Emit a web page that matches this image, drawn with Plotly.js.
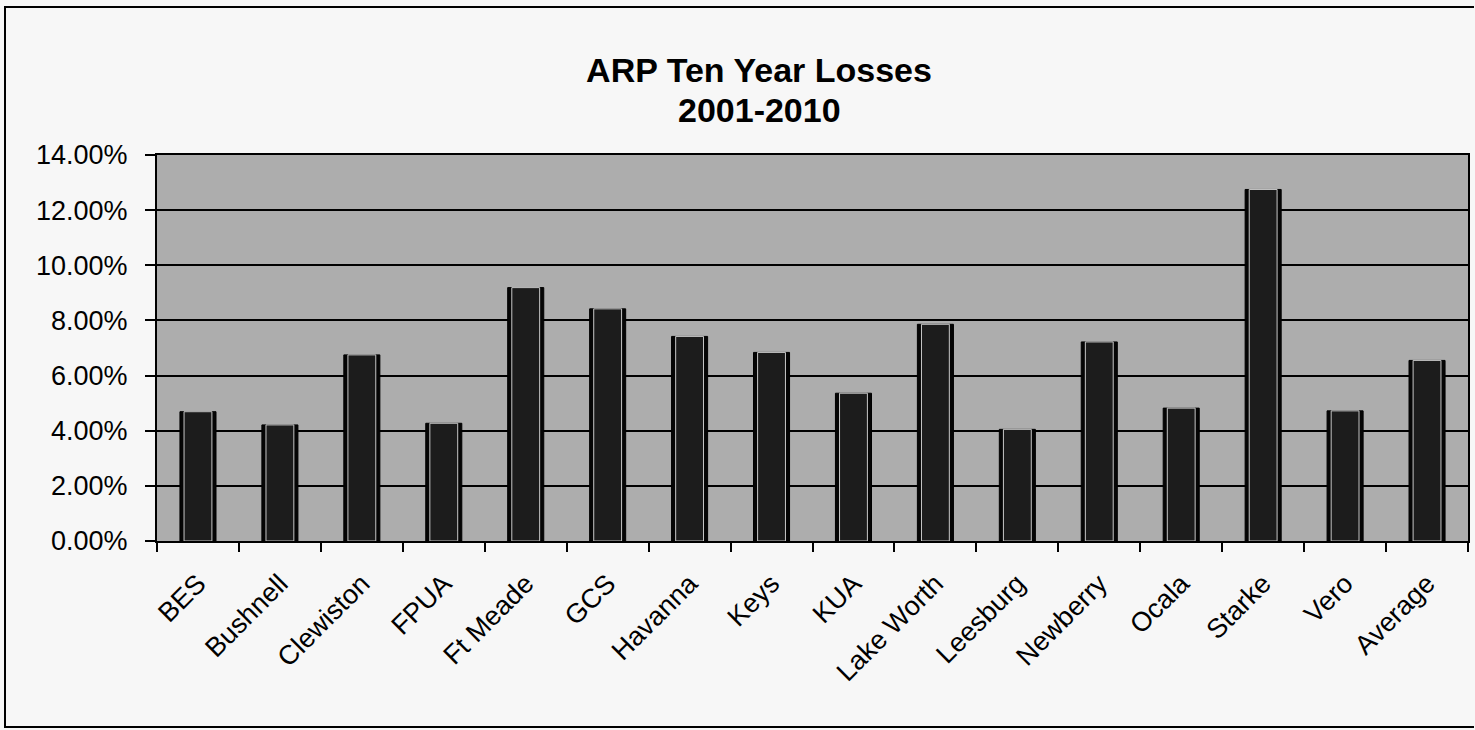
<!DOCTYPE html>
<html>
<head>
<meta charset="utf-8">
<script src="https://cdn.plot.ly/plotly-3.0.1.min.js"></script>
<style>
html,body{margin:0;padding:0;background:#f7f7f7;}
#chart{width:1475px;height:730px;}
</style>
</head>
<body>
<div id="chart"></div>
<script>
var categories = ["BES","Bushnell","Clewiston","FPUA","Ft Meade","GCS","Havanna","Keys","KUA","Lake Worth","Leesburg","Newberry","Ocala","Starke","Vero","Average"];
var losses = [0.0469,0.0421,0.0675,0.0427,0.0919,0.0842,0.0742,0.0684,0.0536,0.0786,0.0405,0.0722,0.0482,0.1275,0.0472,0.0655];
var yTickVals = [0,0.02,0.04,0.06,0.08,0.10,0.12,0.14];
var yTickText = ["0.00%","2.00%","4.00%","6.00%","8.00%","10.00%","12.00%","14.00%"];
var titleLine1 = "ARP Ten Year Losses";
var titleLine2 = "2001-2010";

var L=157, R=1468, T=155, B=541;
function px(x){return (x-L)/(R-L);}
function py(y){return (B-y)/(B-T);}

var outer = {
  x: categories, y: losses, type: "bar", width: 0.44,
  marker: {color: "#050505", line: {color: "#000", width: 1}},
  hoverinfo: "skip", showlegend: false
};
var inner = {
  x: categories, y: losses, type: "bar", width: 0.34,
  marker: {color: "#1c1c1c", line: {color: "#c8c8c8", width: 1}},
  hoverinfo: "skip", showlegend: false
};

var layout = {
  width: 1475, height: 730,
  margin: {l: L, r: 1475-R, t: T, b: 730-B},
  paper_bgcolor: "#f7f7f7",
  plot_bgcolor: "#adadad",
  barmode: "overlay",
  title: {
    text: titleLine1,
    x: 759/1475, xanchor: "center", xref: "container",
    y: 1-70/730, yanchor: "middle", yref: "container",
    font: {family: "Liberation Sans, Arial, sans-serif", size: 34, color: "#000", weight: "bold"}
  },
  annotations: [{
    text: "<b>" + titleLine2 + "</b>",
    xref: "paper", yref: "paper", x: px(759), y: py(110),
    xanchor: "center", yanchor: "middle", showarrow: false,
    font: {family: "Liberation Sans, Arial, sans-serif", size: 34, color: "#000"}
  }],
  xaxis: {
    type: "category",
    tickson: "boundaries",
    ticks: "outside", ticklen: 9, tickwidth: 2, tickcolor: "#000",
    tickangle: -45,
    ticklabelstandoff: 14,
    tickfont: {family: "Liberation Sans, Arial, sans-serif", size: 27, color: "#000"},
    showline: true, linecolor: "#000", linewidth: 2, mirror: true,
    showgrid: false, zeroline: false,
    range: [-0.5, 15.5]
  },
  yaxis: {
    range: [0, 0.14],
    tickvals: yTickVals, ticktext: yTickText,
    ticks: "outside", ticklen: 10, tickwidth: 2, tickcolor: "#000",
    ticklabelstandoff: 12,
    tickfont: {family: "Liberation Sans, Arial, sans-serif", size: 27, color: "#000"},
    showline: true, linecolor: "#000", linewidth: 2, mirror: true,
    showgrid: true, gridcolor: "#000", gridwidth: 2,
    zeroline: false
  },
  shapes: [{
    type: "path", xref: "paper", yref: "paper",
    path: "M " + px(1474) + "," + py(7) + " L " + px(5) + "," + py(7) + " L " + px(5) + "," + py(727) + " L " + px(1474) + "," + py(727),
    line: {color: "#000", width: 2}
  }]
};

Plotly.newPlot("chart", [outer, inner], layout, {displayModeBar: false, staticPlot: true});
</script>
</body>
</html>
